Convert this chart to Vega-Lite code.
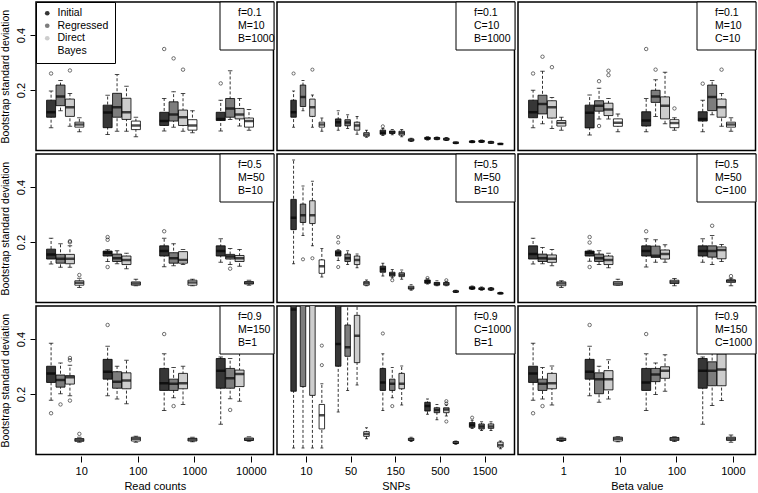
{
 "$schema": "https://vega.github.io/schema/vega-lite/v6.json",
 "padding": {"left": 0, "top": 0, "right": 0, "bottom": 0},
 "background": "white",
 "data": {"values": [
  {"k":"b","c":1,"r":1,"g":"10","s":"Initial","lo":0.063,"q1":0.101,"m":0.119,"q3":0.163,"hi":0.196},
  {"k":"b","c":1,"r":1,"g":"10","s":"Regressed","lo":0.125,"q1":0.143,"m":0.176,"q3":0.218,"hi":0.235},
  {"k":"b","c":1,"r":1,"g":"10","s":"Direct","lo":0.068,"q1":0.104,"m":0.137,"q3":0.167,"hi":0.187},
  {"k":"b","c":1,"r":1,"g":"10","s":"Bayes","lo":0.048,"q1":0.065,"m":0.075,"q3":0.083,"hi":0.099},
  {"k":"b","c":1,"r":1,"g":"100","s":"Initial","lo":0.038,"q1":0.063,"m":0.118,"q3":0.145,"hi":0.181},
  {"k":"b","c":1,"r":1,"g":"100","s":"Regressed","lo":0.05,"q1":0.101,"m":0.137,"q3":0.188,"hi":0.256},
  {"k":"b","c":1,"r":1,"g":"100","s":"Direct","lo":0.05,"q1":0.093,"m":0.119,"q3":0.17,"hi":0.214},
  {"k":"b","c":1,"r":1,"g":"100","s":"Bayes","lo":0.03,"q1":0.056,"m":0.071,"q3":0.087,"hi":0.101},
  {"k":"b","c":1,"r":1,"g":"1000","s":"Initial","lo":0.051,"q1":0.071,"m":0.087,"q3":0.119,"hi":0.169},
  {"k":"b","c":1,"r":1,"g":"1000","s":"Regressed","lo":0.065,"q1":0.087,"m":0.111,"q3":0.157,"hi":0.194},
  {"k":"b","c":1,"r":1,"g":"1000","s":"Direct","lo":0.05,"q1":0.071,"m":0.101,"q3":0.127,"hi":0.187},
  {"k":"b","c":1,"r":1,"g":"1000","s":"Bayes","lo":0.045,"q1":0.054,"m":0.071,"q3":0.092,"hi":0.125},
  {"k":"b","c":1,"r":1,"g":"10000","s":"Initial","lo":0.051,"q1":0.089,"m":0.095,"q3":0.119,"hi":0.163},
  {"k":"b","c":1,"r":1,"g":"10000","s":"Regressed","lo":0.093,"q1":0.101,"m":0.133,"q3":0.169,"hi":0.27},
  {"k":"b","c":1,"r":1,"g":"10000","s":"Direct","lo":0.069,"q1":0.095,"m":0.111,"q3":0.133,"hi":0.169},
  {"k":"b","c":1,"r":1,"g":"10000","s":"Bayes","lo":0.054,"q1":0.065,"m":0.087,"q3":0.098,"hi":0.129},
  {"k":"o","c":1,"r":1,"g":"10","s":"Initial","v":0.26},
  {"k":"o","c":1,"r":1,"g":"10","s":"Direct","v":0.271},
  {"k":"o","c":1,"r":1,"g":"1000","s":"Initial","v":0.349},
  {"k":"o","c":1,"r":1,"g":"1000","s":"Regressed","v":0.315},
  {"k":"o","c":1,"r":1,"g":"1000","s":"Direct","v":0.274},
  {"k":"o","c":1,"r":1,"g":"10000","s":"Initial","v":0.224},

  {"k":"b","c":1,"r":2,"g":"10","s":"Initial","lo":0.12,"q1":0.138,"m":0.155,"q3":0.174,"hi":0.214},
  {"k":"b","c":1,"r":2,"g":"10","s":"Regressed","lo":0.108,"q1":0.123,"m":0.139,"q3":0.155,"hi":0.194},
  {"k":"b","c":1,"r":2,"g":"10","s":"Direct","lo":0.108,"q1":0.121,"m":0.139,"q3":0.155,"hi":0.186},
  {"k":"b","c":1,"r":2,"g":"10","s":"Bayes","lo":0.035,"q1":0.043,"m":0.052,"q3":0.059,"hi":0.068},
  {"k":"b","c":1,"r":2,"g":"100","s":"Initial","lo":0.129,"q1":0.149,"m":0.161,"q3":0.167,"hi":0.172},
  {"k":"b","c":1,"r":2,"g":"100","s":"Regressed","lo":0.121,"q1":0.129,"m":0.141,"q3":0.156,"hi":0.168},
  {"k":"b","c":1,"r":2,"g":"100","s":"Direct","lo":0.103,"q1":0.118,"m":0.135,"q3":0.149,"hi":0.159},
  {"k":"b","c":1,"r":2,"g":"100","s":"Bayes","lo":0.041,"q1":0.043,"m":0.049,"q3":0.055,"hi":0.065},
  {"k":"b","c":1,"r":2,"g":"1000","s":"Initial","lo":0.11,"q1":0.149,"m":0.167,"q3":0.186,"hi":0.214},
  {"k":"b","c":1,"r":2,"g":"1000","s":"Regressed","lo":0.114,"q1":0.123,"m":0.141,"q3":0.161,"hi":0.194},
  {"k":"b","c":1,"r":2,"g":"1000","s":"Direct","lo":0.118,"q1":0.123,"m":0.135,"q3":0.165,"hi":0.173},
  {"k":"b","c":1,"r":2,"g":"1000","s":"Bayes","lo":0.041,"q1":0.043,"m":0.053,"q3":0.061,"hi":0.065},
  {"k":"b","c":1,"r":2,"g":"10000","s":"Initial","lo":0.126,"q1":0.149,"m":0.167,"q3":0.186,"hi":0.212},
  {"k":"b","c":1,"r":2,"g":"10000","s":"Regressed","lo":0.118,"q1":0.138,"m":0.147,"q3":0.155,"hi":0.176},
  {"k":"b","c":1,"r":2,"g":"10000","s":"Direct","lo":0.112,"q1":0.129,"m":0.141,"q3":0.151,"hi":0.173},
  {"k":"b","c":1,"r":2,"g":"10000","s":"Bayes","lo":0.043,"q1":0.047,"m":0.052,"q3":0.056,"hi":0.061},
  {"k":"o","c":1,"r":2,"g":"10","s":"Direct","v":0.203},
  {"k":"o","c":1,"r":2,"g":"10","s":"Direct","v":0.199},
  {"k":"o","c":1,"r":2,"g":"10","s":"Bayes","v":0.08},
  {"k":"o","c":1,"r":2,"g":"100","s":"Initial","v":0.218},
  {"k":"o","c":1,"r":2,"g":"100","s":"Initial","v":0.208},
  {"k":"o","c":1,"r":2,"g":"100","s":"Initial","v":0.109},
  {"k":"o","c":1,"r":2,"g":"1000","s":"Initial","v":0.239},
  {"k":"o","c":1,"r":2,"g":"10000","s":"Regressed","v":0.103},

  {"k":"b","c":1,"r":3,"g":"10","s":"Initial","lo":0.177,"q1":0.242,"m":0.275,"q3":0.301,"hi":0.385},
  {"k":"b","c":1,"r":3,"g":"10","s":"Regressed","lo":0.201,"q1":0.225,"m":0.251,"q3":0.269,"hi":0.313},
  {"k":"b","c":1,"r":3,"g":"10","s":"Direct","lo":0.194,"q1":0.236,"m":0.261,"q3":0.267,"hi":0.305},
  {"k":"b","c":1,"r":3,"g":"10","s":"Bayes","lo":0.025,"q1":0.028,"m":0.033,"q3":0.038,"hi":0.043},
  {"k":"b","c":1,"r":3,"g":"100","s":"Initial","lo":0.194,"q1":0.254,"m":0.281,"q3":0.326,"hi":0.374},
  {"k":"b","c":1,"r":3,"g":"100","s":"Regressed","lo":0.182,"q1":0.221,"m":0.245,"q3":0.281,"hi":0.301},
  {"k":"b","c":1,"r":3,"g":"100","s":"Direct","lo":0.165,"q1":0.219,"m":0.249,"q3":0.277,"hi":0.323},
  {"k":"b","c":1,"r":3,"g":"100","s":"Bayes","lo":0.025,"q1":0.029,"m":0.037,"q3":0.043,"hi":0.046},
  {"k":"b","c":1,"r":3,"g":"1000","s":"Initial","lo":0.14,"q1":0.213,"m":0.239,"q3":0.293,"hi":0.346},
  {"k":"b","c":1,"r":3,"g":"1000","s":"Regressed","lo":0.186,"q1":0.213,"m":0.237,"q3":0.254,"hi":0.296},
  {"k":"b","c":1,"r":3,"g":"1000","s":"Direct","lo":0.162,"q1":0.219,"m":0.239,"q3":0.275,"hi":0.301},
  {"k":"b","c":1,"r":3,"g":"1000","s":"Bayes","lo":0.026,"q1":0.029,"m":0.035,"q3":0.039,"hi":0.043},
  {"k":"b","c":1,"r":3,"g":"10000","s":"Initial","lo":0.09,"q1":0.221,"m":0.285,"q3":0.329,"hi":0.335},
  {"k":"b","c":1,"r":3,"g":"10000","s":"Regressed","lo":0.183,"q1":0.221,"m":0.257,"q3":0.293,"hi":0.329},
  {"k":"b","c":1,"r":3,"g":"10000","s":"Direct","lo":0.174,"q1":0.227,"m":0.273,"q3":0.287,"hi":0.36},
  {"k":"b","c":1,"r":3,"g":"10000","s":"Bayes","lo":0.028,"q1":0.031,"m":0.035,"q3":0.04,"hi":0.045},
  {"k":"o","c":1,"r":3,"g":"10","s":"Initial","v":0.13},
  {"k":"o","c":1,"r":3,"g":"10","s":"Regressed","v":0.162},
  {"k":"o","c":1,"r":3,"g":"10","s":"Direct","v":0.331},
  {"k":"o","c":1,"r":3,"g":"10","s":"Direct","v":0.323},
  {"k":"o","c":1,"r":3,"g":"10","s":"Direct","v":0.176},
  {"k":"o","c":1,"r":3,"g":"10","s":"Bayes","v":0.055},
  {"k":"o","c":1,"r":3,"g":"100","s":"Initial","v":0.451},
  {"k":"o","c":1,"r":3,"g":"1000","s":"Initial","v":0.418},
  {"k":"o","c":1,"r":3,"g":"1000","s":"Regressed","v":0.156},
  {"k":"o","c":1,"r":3,"g":"10000","s":"Regressed","v":0.142},

  {"k":"b","c":2,"r":1,"g":"10","s":"Initial","lo":0.065,"q1":0.101,"m":0.119,"q3":0.163,"hi":0.196},
  {"k":"b","c":2,"r":1,"g":"10","s":"Regressed","lo":0.125,"q1":0.14,"m":0.175,"q3":0.218,"hi":0.235},
  {"k":"b","c":2,"r":1,"g":"10","s":"Direct","lo":0.065,"q1":0.104,"m":0.137,"q3":0.167,"hi":0.182},
  {"k":"b","c":2,"r":1,"g":"10","s":"Bayes","lo":0.05,"q1":0.065,"m":0.075,"q3":0.083,"hi":0.098},
  {"k":"b","c":2,"r":1,"g":"50","s":"Initial","lo":0.054,"q1":0.068,"m":0.083,"q3":0.095,"hi":0.125},
  {"k":"b","c":2,"r":1,"g":"50","s":"Regressed","lo":0.06,"q1":0.07,"m":0.082,"q3":0.092,"hi":0.11},
  {"k":"b","c":2,"r":1,"g":"50","s":"Direct","lo":0.039,"q1":0.054,"m":0.071,"q3":0.083,"hi":0.104},
  {"k":"b","c":2,"r":1,"g":"50","s":"Bayes","lo":0.028,"q1":0.032,"m":0.038,"q3":0.045,"hi":0.054},
  {"k":"b","c":2,"r":1,"g":"150","s":"Initial","lo":0.035,"q1":0.039,"m":0.045,"q3":0.054,"hi":0.06},
  {"k":"b","c":2,"r":1,"g":"150","s":"Regressed","lo":0.037,"q1":0.042,"m":0.046,"q3":0.051,"hi":0.056},
  {"k":"b","c":2,"r":1,"g":"150","s":"Direct","lo":0.03,"q1":0.036,"m":0.044,"q3":0.05,"hi":0.056},
  {"k":"b","c":2,"r":1,"g":"150","s":"Bayes","lo":0.013,"q1":0.015,"m":0.018,"q3":0.022,"hi":0.025},
  {"k":"b","c":2,"r":1,"g":"500","s":"Initial","lo":0.018,"q1":0.021,"m":0.024,"q3":0.028,"hi":0.03},
  {"k":"b","c":2,"r":1,"g":"500","s":"Regressed","lo":0.019,"q1":0.021,"m":0.024,"q3":0.027,"hi":0.029},
  {"k":"b","c":2,"r":1,"g":"500","s":"Direct","lo":0.016,"q1":0.018,"m":0.021,"q3":0.025,"hi":0.027},
  {"k":"b","c":2,"r":1,"g":"500","s":"Bayes","lo":0.005,"q1":0.006,"m":0.008,"q3":0.01,"hi":0.011},
  {"k":"b","c":2,"r":1,"g":"1500","s":"Initial","lo":0.008,"q1":0.01,"m":0.012,"q3":0.014,"hi":0.016},
  {"k":"b","c":2,"r":1,"g":"1500","s":"Regressed","lo":0.009,"q1":0.011,"m":0.013,"q3":0.016,"hi":0.018},
  {"k":"b","c":2,"r":1,"g":"1500","s":"Direct","lo":0.006,"q1":0.007,"m":0.009,"q3":0.012,"hi":0.014},
  {"k":"b","c":2,"r":1,"g":"1500","s":"Bayes","lo":0.002,"q1":0.003,"m":0.004,"q3":0.005,"hi":0.006},
  {"k":"o","c":2,"r":1,"g":"10","s":"Initial","v":0.26},
  {"k":"o","c":2,"r":1,"g":"10","s":"Direct","v":0.274},
  {"k":"o","c":2,"r":1,"g":"150","s":"Initial","v":0.068},

  {"k":"b","c":2,"r":2,"g":"10","s":"Initial","lo":0.121,"q1":0.245,"m":0.288,"q3":0.355,"hi":0.498},
  {"k":"b","c":2,"r":2,"g":"10","s":"Regressed","lo":0.224,"q1":0.271,"m":0.297,"q3":0.338,"hi":0.404},
  {"k":"b","c":2,"r":2,"g":"10","s":"Direct","lo":0.186,"q1":0.267,"m":0.297,"q3":0.35,"hi":0.421},
  {"k":"b","c":2,"r":2,"g":"10","s":"Bayes","lo":0.073,"q1":0.086,"m":0.112,"q3":0.135,"hi":0.176},
  {"k":"b","c":2,"r":2,"g":"50","s":"Initial","lo":0.133,"q1":0.149,"m":0.159,"q3":0.168,"hi":0.172},
  {"k":"b","c":2,"r":2,"g":"50","s":"Regressed","lo":0.118,"q1":0.129,"m":0.141,"q3":0.156,"hi":0.168},
  {"k":"b","c":2,"r":2,"g":"50","s":"Direct","lo":0.106,"q1":0.118,"m":0.135,"q3":0.149,"hi":0.156},
  {"k":"b","c":2,"r":2,"g":"50","s":"Bayes","lo":0.041,"q1":0.043,"m":0.05,"q3":0.056,"hi":0.062},
  {"k":"b","c":2,"r":2,"g":"150","s":"Initial","lo":0.076,"q1":0.09,"m":0.102,"q3":0.112,"hi":0.123},
  {"k":"b","c":2,"r":2,"g":"150","s":"Regressed","lo":0.07,"q1":0.076,"m":0.083,"q3":0.09,"hi":0.1},
  {"k":"b","c":2,"r":2,"g":"150","s":"Direct","lo":0.065,"q1":0.074,"m":0.081,"q3":0.088,"hi":0.098},
  {"k":"b","c":2,"r":2,"g":"150","s":"Bayes","lo":0.025,"q1":0.029,"m":0.033,"q3":0.039,"hi":0.045},
  {"k":"b","c":2,"r":2,"g":"500","s":"Initial","lo":0.047,"q1":0.05,"m":0.056,"q3":0.062,"hi":0.066},
  {"k":"b","c":2,"r":2,"g":"500","s":"Regressed","lo":0.041,"q1":0.043,"m":0.048,"q3":0.053,"hi":0.059},
  {"k":"b","c":2,"r":2,"g":"500","s":"Direct","lo":0.041,"q1":0.043,"m":0.048,"q3":0.053,"hi":0.057},
  {"k":"b","c":2,"r":2,"g":"500","s":"Bayes","lo":0.016,"q1":0.018,"m":0.02,"q3":0.022,"hi":0.025},
  {"k":"b","c":2,"r":2,"g":"1500","s":"Initial","lo":0.027,"q1":0.029,"m":0.033,"q3":0.037,"hi":0.04},
  {"k":"b","c":2,"r":2,"g":"1500","s":"Regressed","lo":0.025,"q1":0.027,"m":0.03,"q3":0.033,"hi":0.036},
  {"k":"b","c":2,"r":2,"g":"1500","s":"Direct","lo":0.024,"q1":0.026,"m":0.029,"q3":0.032,"hi":0.035},
  {"k":"b","c":2,"r":2,"g":"1500","s":"Bayes","lo":0.011,"q1":0.012,"m":0.014,"q3":0.015,"hi":0.017},
  {"k":"o","c":2,"r":2,"g":"10","s":"Regressed","v":0.137},
  {"k":"o","c":2,"r":2,"g":"10","s":"Direct","v":0.141},
  {"k":"o","c":2,"r":2,"g":"50","s":"Initial","v":0.218},
  {"k":"o","c":2,"r":2,"g":"50","s":"Initial","v":0.198},
  {"k":"o","c":2,"r":2,"g":"50","s":"Initial","v":0.109},
  {"k":"o","c":2,"r":2,"g":"150","s":"Regressed","v":0.061},
  {"k":"o","c":2,"r":2,"g":"500","s":"Initial","v":0.069},
  {"k":"o","c":2,"r":2,"g":"500","s":"Direct","v":0.061},

  {"k":"b","c":2,"r":3,"g":"10","s":"Initial","lo":0.004,"q1":0.21,"m":0.507,"q3":0.7,"hi":0.9},
  {"k":"b","c":2,"r":3,"g":"10","s":"Regressed","lo":0.004,"q1":0.227,"m":0.6,"q3":0.8,"hi":1.0},
  {"k":"b","c":2,"r":3,"g":"10","s":"Direct","lo":0.004,"q1":0.195,"m":0.58,"q3":0.75,"hi":0.95},
  {"k":"b","c":2,"r":3,"g":"10","s":"Bayes","lo":0.004,"q1":0.073,"m":0.123,"q3":0.162,"hi":0.237},
  {"k":"b","c":2,"r":3,"g":"50","s":"Initial","lo":0.135,"q1":0.301,"m":0.382,"q3":0.53,"hi":0.6},
  {"k":"b","c":2,"r":3,"g":"50","s":"Regressed","lo":0.213,"q1":0.337,"m":0.37,"q3":0.451,"hi":0.54},
  {"k":"b","c":2,"r":3,"g":"50","s":"Direct","lo":0.233,"q1":0.314,"m":0.412,"q3":0.486,"hi":0.56},
  {"k":"b","c":2,"r":3,"g":"50","s":"Bayes","lo":0.037,"q1":0.046,"m":0.055,"q3":0.063,"hi":0.077},
  {"k":"b","c":2,"r":3,"g":"150","s":"Initial","lo":0.14,"q1":0.213,"m":0.242,"q3":0.293,"hi":0.346},
  {"k":"b","c":2,"r":3,"g":"150","s":"Regressed","lo":0.186,"q1":0.213,"m":0.237,"q3":0.254,"hi":0.296},
  {"k":"b","c":2,"r":3,"g":"150","s":"Direct","lo":0.16,"q1":0.219,"m":0.237,"q3":0.275,"hi":0.302},
  {"k":"b","c":2,"r":3,"g":"150","s":"Bayes","lo":0.027,"q1":0.031,"m":0.035,"q3":0.039,"hi":0.043},
  {"k":"b","c":2,"r":3,"g":"500","s":"Initial","lo":0.126,"q1":0.138,"m":0.156,"q3":0.17,"hi":0.182},
  {"k":"b","c":2,"r":3,"g":"500","s":"Regressed","lo":0.106,"q1":0.132,"m":0.142,"q3":0.15,"hi":0.162},
  {"k":"b","c":2,"r":3,"g":"500","s":"Direct","lo":0.12,"q1":0.132,"m":0.144,"q3":0.15,"hi":0.16},
  {"k":"b","c":2,"r":3,"g":"500","s":"Bayes","lo":0.017,"q1":0.02,"m":0.023,"q3":0.027,"hi":0.029},
  {"k":"b","c":2,"r":3,"g":"1500","s":"Initial","lo":0.075,"q1":0.079,"m":0.088,"q3":0.096,"hi":0.105},
  {"k":"b","c":2,"r":3,"g":"1500","s":"Regressed","lo":0.067,"q1":0.073,"m":0.082,"q3":0.091,"hi":0.099},
  {"k":"b","c":2,"r":3,"g":"1500","s":"Direct","lo":0.067,"q1":0.075,"m":0.082,"q3":0.091,"hi":0.099},
  {"k":"b","c":2,"r":3,"g":"1500","s":"Bayes","lo":0.001,"q1":0.007,"m":0.015,"q3":0.025,"hi":0.029},
  {"k":"o","c":2,"r":3,"g":"10","s":"Bayes","v":0.376},
  {"k":"o","c":2,"r":3,"g":"10","s":"Bayes","v":0.305},
  {"k":"o","c":2,"r":3,"g":"150","s":"Initial","v":0.42},
  {"k":"o","c":2,"r":3,"g":"150","s":"Regressed","v":0.156},
  {"k":"o","c":2,"r":3,"g":"500","s":"Direct","v":0.174},
  {"k":"o","c":2,"r":3,"g":"500","s":"Direct","v":0.165},
  {"k":"o","c":2,"r":3,"g":"500","s":"Direct","v":0.1},
  {"k":"o","c":2,"r":3,"g":"1500","s":"Initial","v":0.114},

  {"k":"b","c":3,"r":1,"g":"1","s":"Initial","lo":0.063,"q1":0.099,"m":0.119,"q3":0.163,"hi":0.199},
  {"k":"b","c":3,"r":1,"g":"1","s":"Regressed","lo":0.077,"q1":0.113,"m":0.149,"q3":0.181,"hi":0.268},
  {"k":"b","c":3,"r":1,"g":"1","s":"Direct","lo":0.06,"q1":0.098,"m":0.137,"q3":0.161,"hi":0.173},
  {"k":"b","c":3,"r":1,"g":"1","s":"Bayes","lo":0.054,"q1":0.069,"m":0.08,"q3":0.089,"hi":0.101},
  {"k":"b","c":3,"r":1,"g":"10","s":"Initial","lo":0.036,"q1":0.062,"m":0.117,"q3":0.145,"hi":0.182},
  {"k":"b","c":3,"r":1,"g":"10","s":"Regressed","lo":0.095,"q1":0.123,"m":0.143,"q3":0.161,"hi":0.206},
  {"k":"b","c":3,"r":1,"g":"10","s":"Direct","lo":0.095,"q1":0.107,"m":0.129,"q3":0.152,"hi":0.169},
  {"k":"b","c":3,"r":1,"g":"10","s":"Bayes","lo":0.048,"q1":0.068,"m":0.081,"q3":0.095,"hi":0.113},
  {"k":"b","c":3,"r":1,"g":"100","s":"Initial","lo":0.048,"q1":0.069,"m":0.089,"q3":0.121,"hi":0.169},
  {"k":"b","c":3,"r":1,"g":"100","s":"Regressed","lo":0.104,"q1":0.155,"m":0.176,"q3":0.199,"hi":0.237},
  {"k":"b","c":3,"r":1,"g":"100","s":"Direct","lo":0.077,"q1":0.095,"m":0.143,"q3":0.175,"hi":0.265},
  {"k":"b","c":3,"r":1,"g":"100","s":"Bayes","lo":0.054,"q1":0.063,"m":0.08,"q3":0.092,"hi":0.099},
  {"k":"b","c":3,"r":1,"g":"1000","s":"Initial","lo":0.048,"q1":0.087,"m":0.095,"q3":0.121,"hi":0.163},
  {"k":"b","c":3,"r":1,"g":"1000","s":"Regressed","lo":0.11,"q1":0.125,"m":0.175,"q3":0.218,"hi":0.235},
  {"k":"b","c":3,"r":1,"g":"1000","s":"Direct","lo":0.068,"q1":0.101,"m":0.137,"q3":0.167,"hi":0.187},
  {"k":"b","c":3,"r":1,"g":"1000","s":"Bayes","lo":0.05,"q1":0.065,"m":0.075,"q3":0.083,"hi":0.099},
  {"k":"o","c":3,"r":1,"g":"1","s":"Initial","v":0.26},
  {"k":"o","c":3,"r":1,"g":"1","s":"Regressed","v":0.321},
  {"k":"o","c":3,"r":1,"g":"1","s":"Direct","v":0.283},
  {"k":"o","c":3,"r":1,"g":"10","s":"Regressed","v":0.232},
  {"k":"o","c":3,"r":1,"g":"10","s":"Regressed","v":0.069},
  {"k":"o","c":3,"r":1,"g":"10","s":"Direct","v":0.27},
  {"k":"o","c":3,"r":1,"g":"10","s":"Direct","v":0.254},
  {"k":"o","c":3,"r":1,"g":"100","s":"Initial","v":0.349},
  {"k":"o","c":3,"r":1,"g":"100","s":"Regressed","v":0.274},
  {"k":"o","c":3,"r":1,"g":"100","s":"Bayes","v":0.133},
  {"k":"o","c":3,"r":1,"g":"1000","s":"Initial","v":0.223},
  {"k":"o","c":3,"r":1,"g":"1000","s":"Direct","v":0.274},

  {"k":"b","c":3,"r":2,"g":"1","s":"Initial","lo":0.12,"q1":0.138,"m":0.156,"q3":0.186,"hi":0.214},
  {"k":"b","c":3,"r":2,"g":"1","s":"Regressed","lo":0.121,"q1":0.129,"m":0.141,"q3":0.156,"hi":0.18},
  {"k":"b","c":3,"r":2,"g":"1","s":"Direct","lo":0.114,"q1":0.126,"m":0.139,"q3":0.153,"hi":0.173},
  {"k":"b","c":3,"r":2,"g":"1","s":"Bayes","lo":0.035,"q1":0.041,"m":0.049,"q3":0.055,"hi":0.059},
  {"k":"b","c":3,"r":2,"g":"10","s":"Initial","lo":0.13,"q1":0.149,"m":0.161,"q3":0.167,"hi":0.17},
  {"k":"b","c":3,"r":2,"g":"10","s":"Regressed","lo":0.118,"q1":0.129,"m":0.141,"q3":0.156,"hi":0.168},
  {"k":"b","c":3,"r":2,"g":"10","s":"Direct","lo":0.106,"q1":0.118,"m":0.135,"q3":0.149,"hi":0.159},
  {"k":"b","c":3,"r":2,"g":"10","s":"Bayes","lo":0.043,"q1":0.043,"m":0.049,"q3":0.056,"hi":0.065},
  {"k":"b","c":3,"r":2,"g":"100","s":"Initial","lo":0.109,"q1":0.149,"m":0.167,"q3":0.186,"hi":0.212},
  {"k":"b","c":3,"r":2,"g":"100","s":"Regressed","lo":0.126,"q1":0.144,"m":0.15,"q3":0.185,"hi":0.208},
  {"k":"b","c":3,"r":2,"g":"100","s":"Direct","lo":0.126,"q1":0.138,"m":0.156,"q3":0.171,"hi":0.19},
  {"k":"b","c":3,"r":2,"g":"100","s":"Bayes","lo":0.041,"q1":0.049,"m":0.055,"q3":0.061,"hi":0.067},
  {"k":"b","c":3,"r":2,"g":"1000","s":"Initial","lo":0.126,"q1":0.149,"m":0.167,"q3":0.186,"hi":0.212},
  {"k":"b","c":3,"r":2,"g":"1000","s":"Regressed","lo":0.118,"q1":0.145,"m":0.167,"q3":0.186,"hi":0.224},
  {"k":"b","c":3,"r":2,"g":"1000","s":"Direct","lo":0.129,"q1":0.139,"m":0.171,"q3":0.182,"hi":0.191},
  {"k":"b","c":3,"r":2,"g":"1000","s":"Bayes","lo":0.041,"q1":0.053,"m":0.059,"q3":0.062,"hi":0.068},
  {"k":"o","c":3,"r":2,"g":"10","s":"Initial","v":0.218},
  {"k":"o","c":3,"r":2,"g":"10","s":"Initial","v":0.198},
  {"k":"o","c":3,"r":2,"g":"10","s":"Initial","v":0.109},
  {"k":"o","c":3,"r":2,"g":"100","s":"Initial","v":0.239},
  {"k":"o","c":3,"r":2,"g":"1000","s":"Regressed","v":0.259},
  {"k":"o","c":3,"r":2,"g":"1000","s":"Bayes","v":0.076},

  {"k":"b","c":3,"r":3,"g":"1","s":"Initial","lo":0.177,"q1":0.242,"m":0.275,"q3":0.301,"hi":0.385},
  {"k":"b","c":3,"r":3,"g":"1","s":"Regressed","lo":0.182,"q1":0.213,"m":0.237,"q3":0.254,"hi":0.296},
  {"k":"b","c":3,"r":3,"g":"1","s":"Direct","lo":0.16,"q1":0.219,"m":0.239,"q3":0.275,"hi":0.302},
  {"k":"b","c":3,"r":3,"g":"1","s":"Bayes","lo":0.027,"q1":0.031,"m":0.035,"q3":0.039,"hi":0.043},
  {"k":"b","c":3,"r":3,"g":"10","s":"Initial","lo":0.194,"q1":0.254,"m":0.281,"q3":0.326,"hi":0.374},
  {"k":"b","c":3,"r":3,"g":"10","s":"Regressed","lo":0.17,"q1":0.201,"m":0.254,"q3":0.277,"hi":0.301},
  {"k":"b","c":3,"r":3,"g":"10","s":"Direct","lo":0.182,"q1":0.215,"m":0.254,"q3":0.285,"hi":0.325},
  {"k":"b","c":3,"r":3,"g":"10","s":"Bayes","lo":0.026,"q1":0.029,"m":0.037,"q3":0.043,"hi":0.045},
  {"k":"b","c":3,"r":3,"g":"100","s":"Initial","lo":0.14,"q1":0.213,"m":0.242,"q3":0.293,"hi":0.346},
  {"k":"b","c":3,"r":3,"g":"100","s":"Regressed","lo":0.198,"q1":0.245,"m":0.271,"q3":0.293,"hi":0.313},
  {"k":"b","c":3,"r":3,"g":"100","s":"Direct","lo":0.21,"q1":0.257,"m":0.285,"q3":0.299,"hi":0.343},
  {"k":"b","c":3,"r":3,"g":"100","s":"Bayes","lo":0.027,"q1":0.031,"m":0.037,"q3":0.042,"hi":0.045},
  {"k":"b","c":3,"r":3,"g":"1000","s":"Initial","lo":0.09,"q1":0.221,"m":0.285,"q3":0.329,"hi":0.335},
  {"k":"b","c":3,"r":3,"g":"1000","s":"Regressed","lo":0.158,"q1":0.23,"m":0.285,"q3":0.317,"hi":0.36},
  {"k":"b","c":3,"r":3,"g":"1000","s":"Direct","lo":0.176,"q1":0.23,"m":0.289,"q3":0.346,"hi":0.4},
  {"k":"b","c":3,"r":3,"g":"1000","s":"Bayes","lo":0.025,"q1":0.031,"m":0.037,"q3":0.043,"hi":0.051},
  {"k":"o","c":3,"r":3,"g":"1","s":"Initial","v":0.13},
  {"k":"o","c":3,"r":3,"g":"1","s":"Regressed","v":0.156},
  {"k":"o","c":3,"r":3,"g":"10","s":"Initial","v":0.451},
  {"k":"o","c":3,"r":3,"g":"100","s":"Initial","v":0.418},

  {"k":"n","c":1,"r":1,"t":"f=0.1\nM=10\nB=1000"},
  {"k":"n","c":1,"r":2,"t":"f=0.5\nM=50\nB=10"},
  {"k":"n","c":1,"r":3,"t":"f=0.9\nM=150\nB=1"},
  {"k":"n","c":2,"r":1,"t":"f=0.1\nC=10\nB=1000"},
  {"k":"n","c":2,"r":2,"t":"f=0.5\nM=50\nB=10"},
  {"k":"n","c":2,"r":3,"t":"f=0.9\nC=1000\nB=1"},
  {"k":"n","c":3,"r":1,"t":"f=0.1\nM=10\nC=10"},
  {"k":"n","c":3,"r":2,"t":"f=0.5\nM=50\nC=100"},
  {"k":"n","c":3,"r":3,"t":"f=0.9\nM=150\nC=1000"}
 ]},
 "spacing": 0,
 "hconcat": [
  {
   "transform": [{"filter": "datum.c == 1"}],
   "facet": {"row": {"field": "r", "type": "ordinal", "title": null, "header": null}},
   "spacing": {"row": 0},
   "spec": {
    "width": 237.5, "height": 148.5,
    "layer": [
     {
      "encoding": {
       "x": {"field": "g", "type": "ordinal", "scale": {"domain": ["10","100","1000","10000"], "paddingInner": 0, "paddingOuter": 0.1}, "title": "Read counts", "axis": {"title": "Read counts", "tickOffset": 11.3, "labelAngle": 0, "tickSize": 6, "labelPadding": 3, "titlePadding": 4}},
       "xOffset": {"field": "s", "type": "nominal", "scale": {"domain": ["Initial","Regressed","Direct","Bayes"], "paddingInner": 0, "paddingOuter": 0.5}}
      },
      "layer": [
       {"transform": [{"filter": "datum.k == 'b'"}], "mark": {"type": "rule", "strokeDash": [3,2], "strokeWidth": 0.8, "color": "black", "clip": true},
        "encoding": {"y": {"field": "lo", "type": "quantitative", "scale": {"domain": [-0.02, 0.52], "nice": false, "zero": false}, "title": "Bootstrap standard deviation", "axis": {"title": "Bootstrap standard deviation", "values": [0.2, 0.4], "format": ".1f", "labelAngle": 270, "labelAlign": "center", "labelBaseline": "bottom", "tickSize": 5, "labelPadding": 4, "titlePadding": 5, "titleFontSize": 10.5}}, "y2": {"field": "hi"}}},
       {"transform": [{"filter": "datum.k == 'b'"}], "mark": {"type": "tick", "orient": "horizontal", "size": 4.5, "thickness": 1, "color": "black", "clip": true},
        "encoding": {"y": {"field": "lo", "type": "quantitative"}}},
       {"transform": [{"filter": "datum.k == 'b'"}], "mark": {"type": "tick", "orient": "horizontal", "size": 4.5, "thickness": 1, "color": "black", "clip": true},
        "encoding": {"y": {"field": "hi", "type": "quantitative"}}},
       {"transform": [{"filter": "datum.k == 'b'"}], "mark": {"type": "bar", "width": 9, "stroke": "black", "strokeWidth": 0.8, "clip": true},
        "encoding": {"y": {"field": "q1", "type": "quantitative"}, "y2": {"field": "q3"},
         "fill": {"field": "s", "type": "nominal", "scale": {"domain": ["Initial","Regressed","Direct","Bayes"], "range": ["#363636","#7d7d7d","#cdcdcd","#ffffff"]}, "legend": {"title": null, "orient": "none", "legendX": 0, "legendY": 0}}}},
       {"transform": [{"filter": "datum.k == 'b'"}], "mark": {"type": "tick", "orient": "horizontal", "size": 9, "thickness": 2.5, "color": "black", "clip": true},
        "encoding": {"y": {"field": "m", "type": "quantitative"}}},
       {"transform": [{"filter": "datum.k == 'o'"}], "mark": {"type": "point", "shape": "circle", "filled": false, "size": 12, "strokeWidth": 0.8, "color": "black", "clip": true},
        "encoding": {"y": {"field": "v", "type": "quantitative"}}}
      ]
     },
     {"transform": [{"filter": "datum.k == 'n'"}], "mark": {"type": "rect", "fill": "white", "stroke": "black", "strokeWidth": 1},
      "encoding": {"x": {"condition": [{"test": "datum.r == 1", "value": 180}, {"test": "datum.r == 2", "value": 189}], "value": 184}, "x2": {"value": 238}, "y": {"value": 0}, "y2": {"value": 48}}},
     {"transform": [{"filter": "datum.k == 'n'"}], "mark": {"type": "text", "align": "left", "baseline": "top", "lineBreak": "\n", "lineHeight": 12.8, "fontSize": 10.5, "font": "Liberation Sans", "color": "black"},
      "encoding": {"text": {"field": "t"}, "x": {"condition": [{"test": "datum.r == 1", "value": 192}, {"test": "datum.r == 2", "value": 207}], "value": 202}, "y": {"value": 6}}}
    ]
   }
  },
  {
   "transform": [{"filter": "datum.c == 2"}],
   "facet": {"row": {"field": "r", "type": "ordinal", "title": null, "header": null}},
   "spacing": {"row": 0},
   "spec": {
    "width": 237.5, "height": 148.5,
    "layer": [
     {
      "encoding": {
       "x": {"field": "g", "type": "ordinal", "scale": {"domain": ["10","50","150","500","1500"], "paddingInner": 0, "paddingOuter": 0.16}, "title": "SNPs", "axis": {"title": "SNPs", "labelAngle": 0, "tickSize": 6, "labelPadding": 3, "titlePadding": 4}},
       "xOffset": {"field": "s", "type": "nominal", "scale": {"domain": ["Initial","Regressed","Direct","Bayes","none"], "paddingInner": 0, "paddingOuter": 0.85}}
      },
      "layer": [
       {"transform": [{"filter": "datum.k == 'b'"}], "mark": {"type": "rule", "strokeDash": [3,2], "strokeWidth": 0.8, "color": "black", "clip": true},
        "encoding": {"y": {"field": "lo", "type": "quantitative", "scale": {"domain": [-0.02, 0.52], "nice": false, "zero": false}, "axis": null}, "y2": {"field": "hi"}}},
       {"transform": [{"filter": "datum.k == 'b'"}], "mark": {"type": "tick", "orient": "horizontal", "size": 3, "thickness": 1, "color": "black", "clip": true},
        "encoding": {"y": {"field": "lo", "type": "quantitative", "axis": null}}},
       {"transform": [{"filter": "datum.k == 'b'"}], "mark": {"type": "tick", "orient": "horizontal", "size": 3, "thickness": 1, "color": "black", "clip": true},
        "encoding": {"y": {"field": "hi", "type": "quantitative", "axis": null}}},
       {"transform": [{"filter": "datum.k == 'b'"}], "mark": {"type": "bar", "width": 5.5, "stroke": "black", "strokeWidth": 0.8, "clip": true},
        "encoding": {"y": {"field": "q1", "type": "quantitative", "axis": null}, "y2": {"field": "q3"},
         "fill": {"field": "s", "type": "nominal", "scale": {"domain": ["Initial","Regressed","Direct","Bayes"], "range": ["#363636","#7d7d7d","#cdcdcd","#ffffff"]}, "legend": {"title": null, "orient": "none", "legendX": 0, "legendY": 0}}}},
       {"transform": [{"filter": "datum.k == 'b'"}], "mark": {"type": "tick", "orient": "horizontal", "size": 5.5, "thickness": 2.5, "color": "black", "clip": true},
        "encoding": {"y": {"field": "m", "type": "quantitative", "axis": null}}},
       {"transform": [{"filter": "datum.k == 'o'"}], "mark": {"type": "point", "shape": "circle", "filled": false, "size": 10, "strokeWidth": 0.8, "color": "black", "clip": true},
        "encoding": {"y": {"field": "v", "type": "quantitative", "axis": null}}}
      ]
     },
     {"transform": [{"filter": "datum.k == 'n'"}], "mark": {"type": "rect", "fill": "white", "stroke": "black", "strokeWidth": 1},
      "encoding": {"x": {"condition": [{"test": "datum.r == 1", "value": 179}, {"test": "datum.r == 2", "value": 189}], "value": 179}, "x2": {"value": 238}, "y": {"value": 0}, "y2": {"value": 48}}},
     {"transform": [{"filter": "datum.k == 'n'"}], "mark": {"type": "text", "align": "left", "baseline": "top", "lineBreak": "\n", "lineHeight": 12.8, "fontSize": 10.5, "font": "Liberation Sans", "color": "black"},
      "encoding": {"text": {"field": "t"}, "x": {"condition": [{"test": "datum.r == 1", "value": 198}, {"test": "datum.r == 2", "value": 207}], "value": 197}, "y": {"value": 6}}}
    ]
   }
  },
  {
   "transform": [{"filter": "datum.c == 3"}],
   "facet": {"row": {"field": "r", "type": "ordinal", "title": null, "header": null}},
   "spacing": {"row": 0},
   "spec": {
    "width": 237.5, "height": 148.5,
    "layer": [
     {
      "encoding": {
       "x": {"field": "g", "type": "ordinal", "scale": {"domain": ["1","10","100","1000"], "paddingInner": 0, "paddingOuter": 0.1}, "title": "Beta value", "axis": {"title": "Beta value", "tickOffset": 11.3, "labelAngle": 0, "tickSize": 6, "labelPadding": 3, "titlePadding": 4}},
       "xOffset": {"field": "s", "type": "nominal", "scale": {"domain": ["Initial","Regressed","Direct","Bayes"], "paddingInner": 0, "paddingOuter": 0.5}}
      },
      "layer": [
       {"transform": [{"filter": "datum.k == 'b'"}], "mark": {"type": "rule", "strokeDash": [3,2], "strokeWidth": 0.8, "color": "black", "clip": true},
        "encoding": {"y": {"field": "lo", "type": "quantitative", "scale": {"domain": [-0.02, 0.52], "nice": false, "zero": false}, "axis": null}, "y2": {"field": "hi"}}},
       {"transform": [{"filter": "datum.k == 'b'"}], "mark": {"type": "tick", "orient": "horizontal", "size": 4.5, "thickness": 1, "color": "black", "clip": true},
        "encoding": {"y": {"field": "lo", "type": "quantitative", "axis": null}}},
       {"transform": [{"filter": "datum.k == 'b'"}], "mark": {"type": "tick", "orient": "horizontal", "size": 4.5, "thickness": 1, "color": "black", "clip": true},
        "encoding": {"y": {"field": "hi", "type": "quantitative", "axis": null}}},
       {"transform": [{"filter": "datum.k == 'b'"}], "mark": {"type": "bar", "width": 9, "stroke": "black", "strokeWidth": 0.8, "clip": true},
        "encoding": {"y": {"field": "q1", "type": "quantitative", "axis": null}, "y2": {"field": "q3"},
         "fill": {"field": "s", "type": "nominal", "scale": {"domain": ["Initial","Regressed","Direct","Bayes"], "range": ["#363636","#7d7d7d","#cdcdcd","#ffffff"]}, "legend": {"title": null, "orient": "none", "legendX": 0, "legendY": 0}}}},
       {"transform": [{"filter": "datum.k == 'b'"}], "mark": {"type": "tick", "orient": "horizontal", "size": 9, "thickness": 2.5, "color": "black", "clip": true},
        "encoding": {"y": {"field": "m", "type": "quantitative", "axis": null}}},
       {"transform": [{"filter": "datum.k == 'o'"}], "mark": {"type": "point", "shape": "circle", "filled": false, "size": 12, "strokeWidth": 0.8, "color": "black", "clip": true},
        "encoding": {"y": {"field": "v", "type": "quantitative", "axis": null}}}
      ]
     },
     {"transform": [{"filter": "datum.k == 'n'"}], "mark": {"type": "rect", "fill": "white", "stroke": "black", "strokeWidth": 1},
      "encoding": {"x": {"condition": [{"test": "datum.r == 1", "value": 189}, {"test": "datum.r == 2", "value": 184}], "value": 179}, "x2": {"value": 238}, "y": {"value": 0}, "y2": {"value": 48}}},
     {"transform": [{"filter": "datum.k == 'n'"}], "mark": {"type": "text", "align": "left", "baseline": "top", "lineBreak": "\n", "lineHeight": 12.8, "fontSize": 10.5, "font": "Liberation Sans", "color": "black"},
      "encoding": {"text": {"field": "t"}, "x": {"condition": [{"test": "datum.r == 1", "value": 207}, {"test": "datum.r == 2", "value": 203}], "value": 197}, "y": {"value": 6}}}
    ]
   }
  }
 ],
 "config": {
  "view": {"stroke": "black", "strokeWidth": 1.5},
  "font": "Liberation Sans",
  "axis": {"labelFont": "Liberation Sans", "titleFont": "Liberation Sans", "labelFontSize": 11, "titleFontSize": 11, "titleFontWeight": "normal", "labelColor": "black", "titleColor": "black", "tickColor": "black", "domain": false, "grid": false},
  "legend": {"labelFont": "Liberation Sans", "labelFontSize": 10.5, "labelColor": "black", "symbolType": "circle", "symbolSize": 22, "symbolStrokeWidth": 0, "symbolStrokeColor": "transparent", "strokeColor": "black", "fillColor": "white", "padding": 6, "rowPadding": 1.5, "labelOffset": 5}
 }
}
